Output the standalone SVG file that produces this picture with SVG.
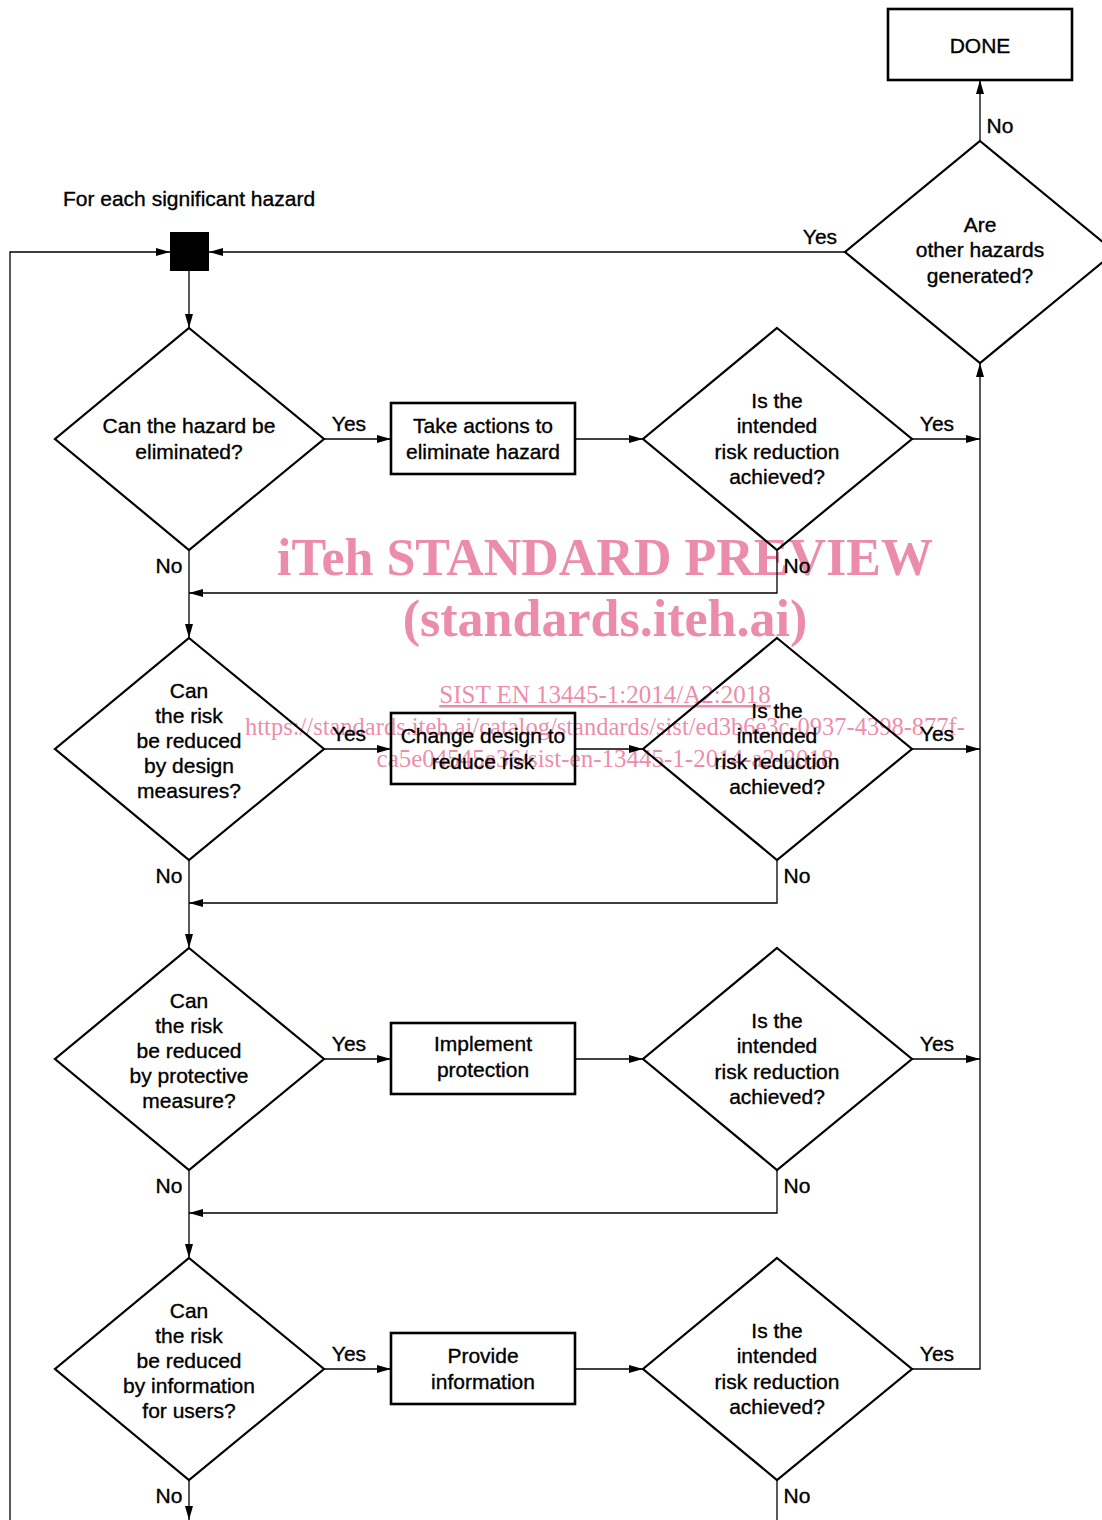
<svg xmlns="http://www.w3.org/2000/svg" width="1102" height="1520" viewBox="0 0 1102 1520">
<style>
text{font-family:"Liberation Sans",Arial,sans-serif;font-size:21px;fill:#000;stroke:#000;stroke-width:0.35;text-anchor:middle}
.shape{fill:none;stroke:#000;stroke-width:2.2}
.box{fill:none;stroke:#000;stroke-width:2.6}
.conn path{fill:none;stroke:#000;stroke-width:1.3}
text.wm{font-family:"Liberation Serif","Times New Roman",serif;fill:#e8789c;fill-opacity:0.85;stroke:none}
</style>
<defs>
<marker id="arr" markerUnits="userSpaceOnUse" markerWidth="14" markerHeight="8" refX="14" refY="4" orient="auto">
<path d="M0,0 L14,4 L0,8 z" fill="#000"/>
</marker>
</defs>
<rect width="1102" height="1520" fill="#fff"/>
<g id="watermark">
<text class="wm" x="605" y="575" style="font-size:52px;font-weight:bold">iTeh STANDARD PREVIEW</text>
<text class="wm" x="605" y="636" style="font-size:52px;font-weight:bold">(standards.iteh.ai)</text>
<text class="wm" x="605" y="703" style="font-size:25px;text-decoration:underline">SIST EN 13445-1:2014/A2:2018</text>
<text class="wm" x="605" y="735" style="font-size:24.5px">https://standards.iteh.ai/catalog/standards/sist/ed3b6e3c-0937-4398-877f-</text>
<text class="wm" x="605" y="767" style="font-size:25px">ca5e04545e36/sist-en-13445-1-2014-a2-2018</text>
</g>
<g class="conn" id="connectors">
<path d="M10,1520 V252 H170" marker-end="url(#arr)"/>
<path d="M845,252 H209" marker-end="url(#arr)"/>
<path d="M189,271 V328" marker-end="url(#arr)"/>
<path d="M980,141 V80" marker-end="url(#arr)"/>
<path d="M912,1369 H980 V363" marker-end="url(#arr)"/>
<path d="M912,439 H980" marker-end="url(#arr)"/>
<path d="M912,749 H980" marker-end="url(#arr)"/>
<path d="M912,1059 H980" marker-end="url(#arr)"/>
<path d="M324,439 H391" marker-end="url(#arr)"/>
<path d="M324,749 H391" marker-end="url(#arr)"/>
<path d="M324,1059 H391" marker-end="url(#arr)"/>
<path d="M324,1369 H391" marker-end="url(#arr)"/>
<path d="M575,439 H643" marker-end="url(#arr)"/>
<path d="M575,749 H643" marker-end="url(#arr)"/>
<path d="M575,1059 H643" marker-end="url(#arr)"/>
<path d="M575,1369 H643" marker-end="url(#arr)"/>
<path d="M189,550 V638" marker-end="url(#arr)"/>
<path d="M189,860 V948" marker-end="url(#arr)"/>
<path d="M189,1170 V1258" marker-end="url(#arr)"/>
<path d="M189,1480 V1520" marker-end="url(#arr)"/>
<path d="M777,550 V593 H189" marker-end="url(#arr)"/>
<path d="M777,860 V903 H189" marker-end="url(#arr)"/>
<path d="M777,1170 V1213 H189" marker-end="url(#arr)"/>
<path d="M777,1480 V1520"/>
<text x="1000" y="133">No</text>
<text x="820" y="244">Yes</text>
<text x="349" y="431">Yes</text>
<text x="349" y="741">Yes</text>
<text x="349" y="1051">Yes</text>
<text x="349" y="1361">Yes</text>
<text x="937" y="431">Yes</text>
<text x="937" y="741">Yes</text>
<text x="937" y="1051">Yes</text>
<text x="937" y="1361">Yes</text>
<text x="169" y="573">No</text>
<text x="169" y="883">No</text>
<text x="169" y="1193">No</text>
<text x="169" y="1503">No</text>
<text x="797" y="573">No</text>
<text x="797" y="883">No</text>
<text x="797" y="1193">No</text>
<text x="797" y="1503">No</text>
</g>
<g id="start">
<text x="189" y="206">For each significant hazard</text>
<rect x="170" y="232" width="39" height="39" fill="#000"/>
</g>
<g id="done">
<rect class="box" x="888" y="9" width="184" height="71"/>
<text x="980" y="53">DONE</text>
</g>
<g id="other-hazards">
<path class="shape" d="M980,141 L1115,252 L980,363 L845,252 Z"/>
<text x="980" y="232">Are</text>
<text x="980" y="257">other hazards</text>
<text x="980" y="283">generated?</text>
</g>
<g id="q1">
<path class="shape" d="M189,328 L324,439 L189,550 L55,439 Z"/>
<text x="189" y="433">Can the hazard be</text>
<text x="189" y="459">eliminated?</text>
</g>
<g id="a1">
<rect class="box" x="391" y="403" width="184" height="71"/>
<text x="483" y="433">Take actions to</text>
<text x="483" y="459">eliminate hazard</text>
</g>
<g id="r1">
<path class="shape" d="M777,328 L912,439 L777,550 L643,439 Z"/>
<text x="777" y="408">Is the</text>
<text x="777" y="433">intended</text>
<text x="777" y="459">risk reduction</text>
<text x="777" y="484">achieved?</text>
</g>
<g id="q2">
<path class="shape" d="M189,638 L324,749 L189,860 L55,749 Z"/>
<text x="189" y="698">Can</text>
<text x="189" y="723">the risk</text>
<text x="189" y="748">be reduced</text>
<text x="189" y="773">by design</text>
<text x="189" y="798">measures?</text>
</g>
<g id="a2">
<rect class="box" x="391" y="713" width="184" height="71"/>
<text x="483" y="743">Change design to</text>
<text x="483" y="769">reduce risk</text>
</g>
<g id="r2">
<path class="shape" d="M777,638 L912,749 L777,860 L643,749 Z"/>
<text x="777" y="718">Is the</text>
<text x="777" y="743">intended</text>
<text x="777" y="769">risk reduction</text>
<text x="777" y="794">achieved?</text>
</g>
<g id="q3">
<path class="shape" d="M189,948 L324,1059 L189,1170 L55,1059 Z"/>
<text x="189" y="1008">Can</text>
<text x="189" y="1033">the risk</text>
<text x="189" y="1058">be reduced</text>
<text x="189" y="1083">by protective</text>
<text x="189" y="1108">measure?</text>
</g>
<g id="a3">
<rect class="box" x="391" y="1023" width="184" height="71"/>
<text x="483" y="1051">Implement</text>
<text x="483" y="1077">protection</text>
</g>
<g id="r3">
<path class="shape" d="M777,948 L912,1059 L777,1170 L643,1059 Z"/>
<text x="777" y="1028">Is the</text>
<text x="777" y="1053">intended</text>
<text x="777" y="1079">risk reduction</text>
<text x="777" y="1104">achieved?</text>
</g>
<g id="q4">
<path class="shape" d="M189,1258 L324,1369 L189,1480 L55,1369 Z"/>
<text x="189" y="1318">Can</text>
<text x="189" y="1343">the risk</text>
<text x="189" y="1368">be reduced</text>
<text x="189" y="1393">by information</text>
<text x="189" y="1418">for users?</text>
</g>
<g id="a4">
<rect class="box" x="391" y="1333" width="184" height="71"/>
<text x="483" y="1363">Provide</text>
<text x="483" y="1389">information</text>
</g>
<g id="r4">
<path class="shape" d="M777,1258 L912,1369 L777,1480 L643,1369 Z"/>
<text x="777" y="1338">Is the</text>
<text x="777" y="1363">intended</text>
<text x="777" y="1389">risk reduction</text>
<text x="777" y="1414">achieved?</text>
</g>
</svg>
